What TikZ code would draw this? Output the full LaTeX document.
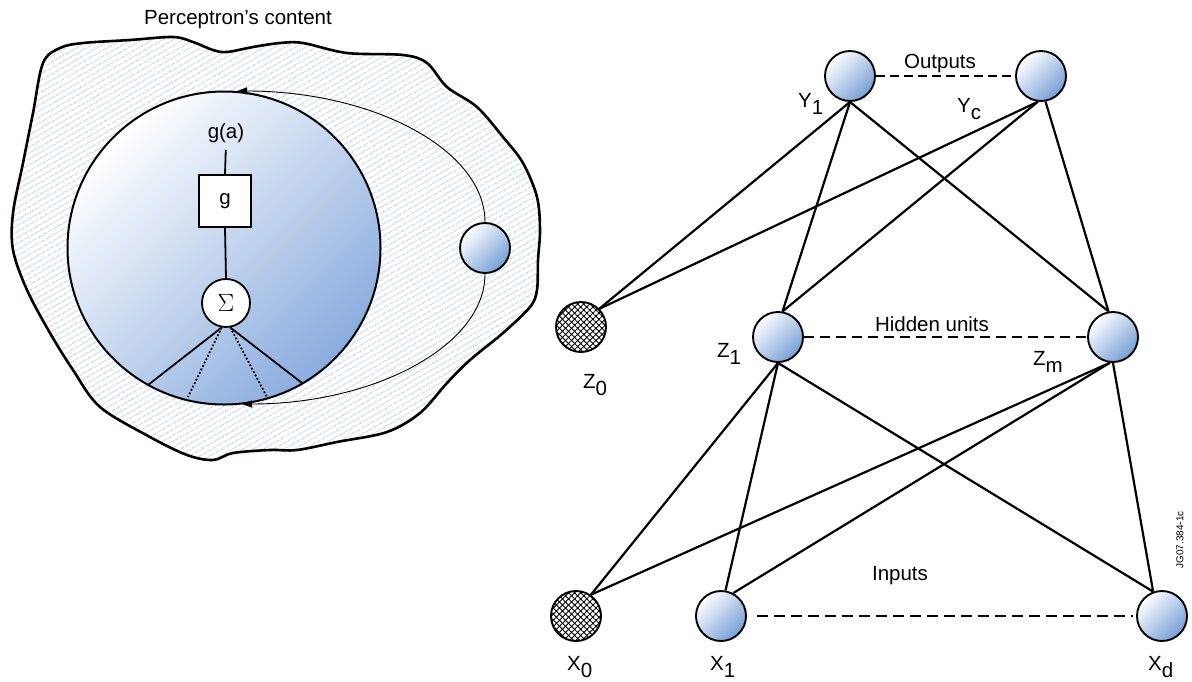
\documentclass[tikz,border=0pt]{standalone}
\usepackage{fontspec}
\setmainfont{Liberation Sans}
\usetikzlibrary{arrows.meta,patterns.meta}
\definecolor{nodeblue}{RGB}{118,158,214}
\definecolor{bigblue}{RGB}{138,172,222}
\definecolor{hatchblue}{RGB}{205,220,242}
\begin{document}
\begin{tikzpicture}[x=1pt,y=-1pt,
  lbl/.style={font=\fontsize{20.5}{24}\selectfont, inner sep=0pt},
  tiny/.style={font=\fontsize{10}{11}\selectfont, inner sep=0pt},
  unit/.style={circle, draw=black, line width=1.9pt, minimum size=50pt, inner sep=0pt,
    top color=white, bottom color=nodeblue, shading angle=45},
  biasunit/.style={circle, draw=black, line width=1.9pt, minimum size=50pt, inner sep=0pt,
    pattern={Lines[angle=45,distance=4.3pt,line width=0.9pt]},
    postaction={pattern={Lines[angle=-45,distance=4.3pt,line width=0.9pt]}}},
  link/.style={line width=2.2pt},
  layerdash/.style={line width=2.2pt, dash pattern=on 9pt off 5pt},
  inner/.style={line width=1.8pt},
  feedback/.style={line width=0.9pt, -{Triangle[length=10pt,width=7pt]}},
]
\useasboundingbox (0,0) rectangle (1192,681);

% ---------- left: perceptron's content ----------
\node[lbl, anchor=base] (title) at (238,24) {Perceptron’s content};

\draw[line width=2.6pt, pattern={Lines[angle=30,distance=5.4pt,line width=1.4pt]}, pattern color=hatchblue]
  plot[smooth cycle, tension=0.55] coordinates {
  (43,63) (60,48) (83,43) (130,40) (173,37) (193,42) (213,50) (227,52) (253,47) (280,43)
  (303,43) (347,53) (403,55) (427,63) (447,87) (477,107) (503,137) (523,163) (537,197)
  (540,230) (538,260) (537,290) (530,307) (503,333) (470,360) (447,383) (420,413)
  (387,432) (337,442) (297,450) (270,450) (233,453) (213,460) (187,455) (150,437)
  (100,407) (73,370) (50,333) (27,290) (13,250) (13,213) (23,163) (33,113)};

\node[circle, draw=black, line width=2pt, minimum size=313pt, inner sep=0pt,
  top color=white, bottom color=bigblue, shading angle=45] (cell) at (224,248) {};

\node[unit] (sm) at (485,248) {};
\coordinate (topin) at (237,91);
\coordinate (botin) at (242,404);
\draw[feedback] (sm.north) .. controls (485,150) and (374,91) .. (topin);
\draw[feedback] (sm.south) .. controls (485,346) and (374,404) .. (botin);

\node[lbl] (ga) at (226,133) {g(a)};
\node[draw=black, line width=1.8pt, fill=white, minimum size=52pt, inner sep=0pt,
  font=\fontsize{20.5}{24}\selectfont] (gbox) at (225,201) {g};
\node[circle, draw=black, line width=1.8pt, fill=white, minimum size=48pt, inner sep=0pt,
  font=\fontsize{24}{24}\selectfont] (sig) at (226,303) {$\Sigma$};
\draw[inner, shorten <=7pt] (ga.south) -- (gbox.north);
\draw[inner] (gbox.south) -- (sig.north);

\coordinate (f1) at (148,385);
\coordinate (f2) at (188,397);
\coordinate (f3) at (267,397);
\coordinate (f4) at (302,383);
\draw[inner] (sig.-100) -- (f1);
\draw[inner, dotted] (sig.-100) -- (f2);
\draw[inner, dotted] (sig.-80) -- (f3);
\draw[inner] (sig.-80) -- (f4);

% ---------- right: network ----------
\node[unit] (Y1) at (850,76) {};
\node[unit] (Yc) at (1041,76) {};
\node[biasunit] (Z0) at (581,327) {};
\node[unit] (Z1) at (778,337) {};
\node[unit] (Zm) at (1113,337) {};
\node[biasunit] (X0) at (576,616) {};
\node[unit] (X1) at (721,616) {};
\node[unit] (Xd) at (1162,616) {};

\draw[layerdash] (Y1) -- (Yc);
\draw[line width=1.6pt, dash pattern=on 10pt off 6pt] (Z1) -- (Zm);
\draw[line width=2.4pt, dash pattern=on 11pt off 6pt, shorten <=10pt, shorten >=3pt] (X1) -- (Xd);

\draw[link] (Y1.south) -- (Z0.45);
\draw[link] (Y1.south) -- (Z1.80);
\draw[link] (Y1.south) -- (Zm.100);
\draw[link] (Yc.-97) -- (Z0.45);
\draw[link] (Yc.-97) -- (Z1.80);
\draw[link] (Yc.-80) -- (Zm.100);
\draw[link] (Z1.south) -- (X0.55);
\draw[link] (Z1.south) -- (X1.80);
\draw[link] (Z1.south) -- (Xd.110);
\draw[link] (Zm.-97) -- (X0.55);
\draw[link] (Zm.-97) -- (X1.62);
\draw[link] (Zm.south) -- (Xd.110);

\node[lbl, anchor=base] (outl) at (940,68) {Outputs};
\node[lbl, anchor=base] (hidl) at (932,331) {Hidden units};
\node[lbl, anchor=base] (inl) at (900,580) {Inputs};

\node[lbl, anchor=base west] (lY1) at (798,107) {Y\raisebox{-7pt}{1}};
\node[lbl, anchor=base west] (lYc) at (957,112) {Y\raisebox{-7pt}{c}};
\node[lbl, anchor=base west] (lZ0) at (583,388) {Z\raisebox{-7pt}{0}};
\node[lbl, anchor=base west] (lZ1) at (717,357) {Z\raisebox{-7pt}{1}};
\node[lbl, anchor=base west] (lZm) at (1033,365) {Z\raisebox{-7pt}{m}};
\node[lbl, anchor=base west] (lX0) at (567,670) {X\raisebox{-7pt}{0}};
\node[lbl, anchor=base west] (lX1) at (710,670) {X\raisebox{-7pt}{1}};
\node[lbl, anchor=base west] (lXd) at (1148,670) {X\raisebox{-7pt}{d}};

\node[tiny, rotate=90] (jg) at (1180,540) {JG07.384-1c};
\end{tikzpicture}
\end{document}
